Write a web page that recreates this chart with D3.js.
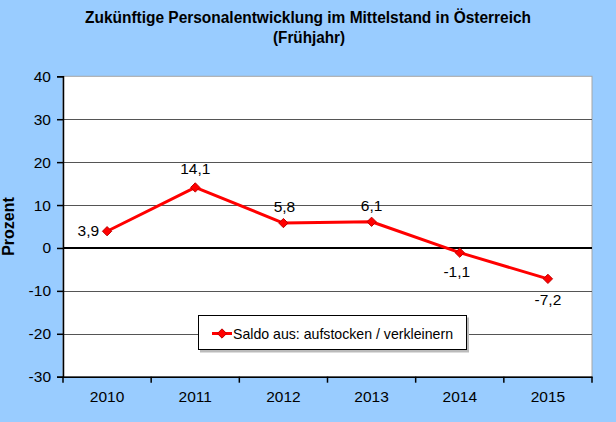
<!DOCTYPE html>
<html><head><meta charset="utf-8">
<script src="https://cdn.jsdelivr.net/npm/d3@7"></script>
<style>body{margin:0;background:#99CCFF;} svg{display:block;font-family:"Liberation Sans",Arial,sans-serif;}</style>
</head><body>
<svg id="c" width="616" height="422"></svg>
<script>
const categories = ["2010","2011","2012","2013","2014","2015"];
const values = [3.9, 14.1, 5.8, 6.1, -1.1, -7.2];
const valueLabels = ["3,9","14,1","5,8","6,1","-1,1","-7,2"];
const yTicks = [-30,-20,-10,0,10,20,30,40];
const seriesName = "Saldo aus: aufstocken / verkleinern";
const titleLines = ["Zukünftige Personalentwicklung im Mittelstand in Österreich","(Frühjahr)"];
const yTitle = "Prozent";

const svg = d3.select("#c");
const L = 63, R = 592, T = 76.3, B = 376.7;
const x = d3.scaleBand().domain(categories).range([L, R]);
const y = d3.scaleLinear().domain([-30, 40]).range([B, T]);

svg.append("rect").attr("width",616).attr("height",422).attr("fill","#99CCFF");
svg.append("rect").attr("x",L).attr("y",T).attr("width",R-L).attr("height",B-T)
  .attr("fill","#fff").attr("stroke","#a6a6a6").attr("stroke-width",1);

svg.append("g").selectAll("line").data(yTicks.filter(d=>d!==0 && d!==-30 && d!==40)).join("line")
  .attr("x1",L).attr("x2",R).attr("y1",d=>Math.round(y(d))+0.5).attr("y2",d=>Math.round(y(d))+0.5)
  .attr("stroke","#555").attr("stroke-width",1);

svg.append("line").attr("x1",L).attr("x2",R).attr("y1",y(0)).attr("y2",y(0))
  .attr("stroke","#000").attr("stroke-width",2);

const yAxis = d3.axisLeft(y).tickValues(yTicks).tickSize(6).tickPadding(6).tickFormat(d=>d);
const gy = svg.append("g").attr("transform",`translate(${L},0)`).call(yAxis);
gy.select(".domain").attr("stroke","#000").attr("stroke-width",1.5);
gy.selectAll(".tick line").attr("stroke","#000").attr("stroke-width",1.5);
gy.selectAll("text").attr("font-size",15.5).attr("fill","#000").attr("font-family","Liberation Sans, Arial, sans-serif");

const xAxis = d3.axisBottom(x).tickSize(0).tickPadding(14);
const gx = svg.append("g").attr("transform",`translate(0,${B})`).call(xAxis);
gx.select(".domain").attr("stroke","#000").attr("stroke-width",1.5);
gx.selectAll("text").attr("font-size",15.5).attr("fill","#000").attr("font-family","Liberation Sans, Arial, sans-serif");
const bounds = categories.map(c=>x(c)).concat([x(categories[categories.length-1])+x.bandwidth()]);
svg.append("g").selectAll("line").data(bounds).join("line")
  .attr("x1",d=>d).attr("x2",d=>d).attr("y1",B).attr("y2",B+6)
  .attr("stroke","#000").attr("stroke-width",1.5);

const cx = d=>x(d)+x.bandwidth()/2;
const data = categories.map((c,i)=>({c, v:values[i], lab:valueLabels[i]}));
svg.append("path").datum(data)
  .attr("d", d3.line().x(d=>cx(d.c)).y(d=>y(d.v)))
  .attr("fill","none").attr("stroke","#FF0000").attr("stroke-width",3).attr("stroke-linejoin","round");
const sym = d3.symbol().type(d3.symbolDiamond2).size(55);
svg.append("g").selectAll("path").data(data).join("path")
  .attr("d", sym).attr("transform",d=>`translate(${cx(d.c)},${y(d.v)})`)
  .attr("fill","#FF0000").attr("stroke","#C00000").attr("stroke-width",1);

const labelPos = [
  {dx:-8, dy:5, anchor:"end"},
  {dx:0, dy:-13, anchor:"middle"},
  {dx:1, dy:-11, anchor:"middle"},
  {dx:0, dy:-11, anchor:"middle"},
  {dx:-3, dy:24, anchor:"middle"},
  {dx:0, dy:26, anchor:"middle"}
];
svg.append("g").selectAll("text").data(data).join("text")
  .attr("x",(d,i)=>cx(d.c)+labelPos[i].dx).attr("y",(d,i)=>y(d.v)+labelPos[i].dy)
  .attr("text-anchor",(d,i)=>labelPos[i].anchor)
  .attr("font-size",15.5).attr("fill","#000").text(d=>d.lab);

svg.append("text").attr("x",308).attr("y",22.5).attr("text-anchor","middle")
  .attr("font-size",16).attr("font-weight","bold").attr("textLength",446).attr("lengthAdjust","spacingAndGlyphs")
  .text(titleLines[0]);
svg.append("text").attr("x",309).attr("y",42.5).attr("text-anchor","middle")
  .attr("font-size",16).attr("font-weight","bold").attr("textLength",72).attr("lengthAdjust","spacingAndGlyphs")
  .text(titleLines[1]);

svg.append("text").attr("transform",`translate(14,${(T+B)/2}) rotate(-90)`).attr("text-anchor","middle")
  .attr("font-size",16).attr("font-weight","bold").text(yTitle);

const lg = svg.append("g");
lg.append("rect").attr("x",200).attr("y",317.5).attr("width",269).attr("height",35).attr("fill","#bbb");
lg.append("rect").attr("x",198.5).attr("y",315.5).attr("width",268).attr("height",34).attr("fill","#fff").attr("stroke","#000").attr("stroke-width",1);
lg.append("line").attr("x1",212).attr("x2",232).attr("y1",333.5).attr("y2",333.5).attr("stroke","#FF0000").attr("stroke-width",3);
lg.append("path").attr("d",sym).attr("transform","translate(222,333.5)").attr("fill","#FF0000").attr("stroke","#C00000");
lg.append("text").attr("x",233).attr("y",338.5).attr("font-size",14.5).attr("textLength",220).attr("lengthAdjust","spacingAndGlyphs").text(seriesName);
</script>
</body></html>
